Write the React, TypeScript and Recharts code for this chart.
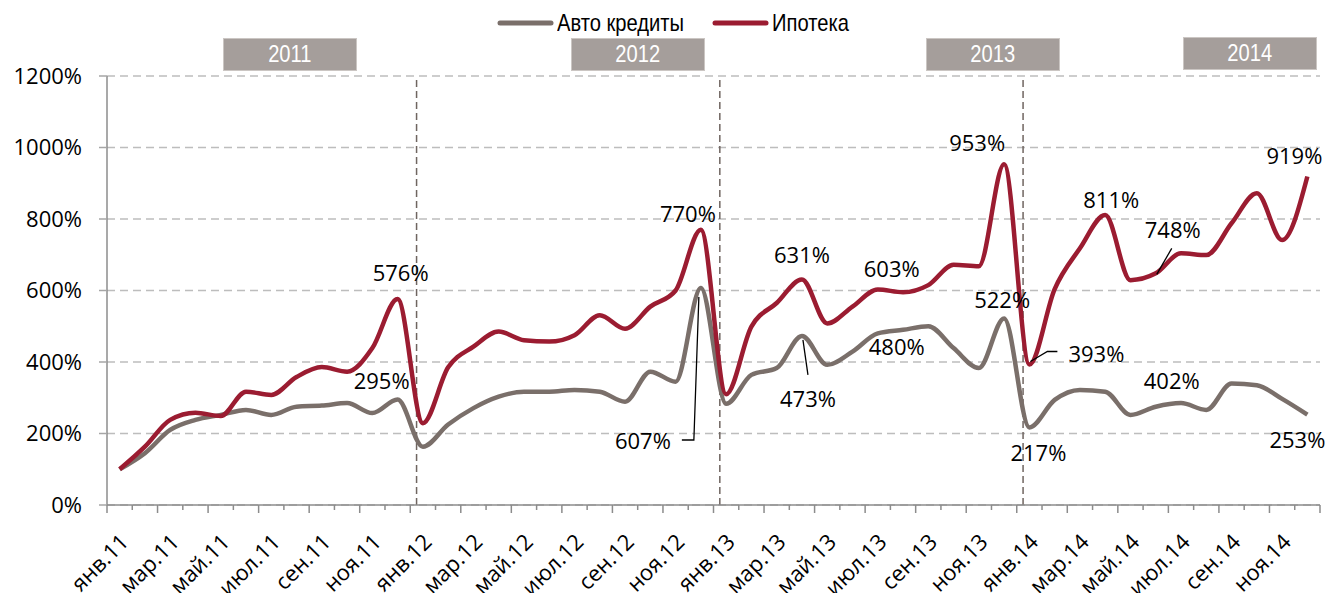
import React from 'react';
import {
  LineChart,
  Line,
  XAxis,
  YAxis,
  CartesianGrid,
  ReferenceLine,
  ReferenceDot,
  Legend,
} from 'recharts';

// ---------- DATA ----------
const months: string[] = [
  'янв.11', 'фев.11', 'мар.11', 'апр.11', 'май.11', 'июн.11', 'июл.11', 'авг.11', 'сен.11', 'окт.11', 'ноя.11', 'дек.11',
  'янв.12', 'фев.12', 'мар.12', 'апр.12', 'май.12', 'июн.12', 'июл.12', 'авг.12', 'сен.12', 'окт.12', 'ноя.12', 'дек.12',
  'янв.13', 'фев.13', 'мар.13', 'апр.13', 'май.13', 'июн.13', 'июл.13', 'авг.13', 'сен.13', 'окт.13', 'ноя.13', 'дек.13',
  'янв.14', 'фев.14', 'мар.14', 'апр.14', 'май.14', 'июн.14', 'июл.14', 'авг.14', 'сен.14', 'окт.14', 'ноя.14', 'дек.14',
];

const autoLoans: number[] = [
  100, 145, 210, 238, 252, 266, 252, 275, 278, 285, 257, 295,
  163, 225, 271, 303, 317, 317, 322, 317, 289, 373, 345, 607,
  283, 364, 383, 473, 392, 429, 480, 490, 500, 439, 383, 522,
  217, 294, 322, 317, 252, 275, 285, 266, 340, 335, 297, 253,
];

const mortgage: number[] = [
  100, 163, 238, 258, 249, 317, 308, 358, 386, 373, 439, 576,
  229, 385, 443, 485, 461, 457, 475, 531, 493, 555, 600, 770,
  310, 499, 565, 631, 508, 555, 603, 595, 615, 672, 668, 953,
  393, 604, 718, 811, 629, 648, 704, 699, 788, 872, 741, 919,
];

const seriesNames = { auto: 'Авто кредиты', mortgage: 'Ипотека' };

const yTicks: number[] = [0, 200, 400, 600, 800, 1000, 1200];

const yearLabels: string[] = ['2011', '2012', '2013', '2014'];

// year separators (in month-index units, between dec and jan)
const yearSeparators: number[] = [11.75, 23.75, 35.75];

// data-label texts per series (index -> text)
const mortgageLabelIdx: number[] = [11, 23, 27, 30, 35, 36, 39, 41, 47];
const mortgageLabelText: string[] = ['576%', '770%', '631%', '603%', '953%', '393%', '811%', '748%', '919%'];
const autoLabelIdx: number[] = [11, 23, 27, 30, 35, 36, 41, 47];
const autoLabelText: string[] = ['295%', '607%', '473%', '480%', '522%', '217%', '402%', '253%'];

// ---------- LAYOUT / STYLE ----------
const W = 1329;
const H = 593;
const RED = '#9B1C31';
const GRAY = '#7A6F6A';
const FONT = "'Open Sans', 'Noto Sans', sans-serif";
const NARROW = "'Liberation Sans', Arial, sans-serif";
const NARROW_SCALE = 0.84;

type Place = { dx: number; dy: number; leader?: number[][] };
const mortgagePlace: Place[] = [
  { dx: 3, dy: -27 },
  { dx: -13, dy: -17 },
  { dx: 0, dy: -25 },
  { dx: 14, dy: -21 },
  { dx: -27, dy: -22 },
  { dx: 67, dy: -12, leader: [[1, -3], [18, -13], [28, -13]] },
  { dx: 6, dy: -16 },
  { dx: 17, dy: -44, leader: [[1, 1], [16, -25]] },
  { dx: -13, dy: -21 },
];
const autoPlace: Place[] = [
  { dx: -16, dy: -20 },
  { dx: -58, dy: 152, leader: [[-19, 152], [-7, 152], [-2, 9]] },
  { dx: 6, dy: 62, leader: [[6, 39], [1, 4]] },
  { dx: 19, dy: 13 },
  { dx: -2, dy: -19 },
  { dx: 9, dy: 25 },
  { dx: 16, dy: -27 },
  { dx: -10, dy: 24 },
];

const yearBoxes = [
  { left: 223, top: 38 },
  { left: 571, top: 38 },
  { left: 926, top: 38 },
  { left: 1183, top: 37 },
];

const legendTextWidths = [128, 80];

const data = months.map((m, i) => ({
  idx: i,
  month: m,
  auto: autoLoans[i],
  mortgage: mortgage[i],
}));

const xTicks: number[] = Array.from({ length: months.length * 2 + 1 }, (_, k) => -0.5 + k * 0.5);

const XTick = (props: any) => {
  const { x, y, payload } = props;
  const v: number = payload.value;
  if (Number.isInteger(v)) {
    if (v % 2 !== 0 || v >= months.length) return <g />;
    const tx = x + 4;
    const ty = y + 32;
    return (
      <text
        x={tx}
        y={ty}
        textAnchor="end"
        dominantBaseline="central"
        transform={`rotate(-45 ${tx} ${ty})`}
        fontSize={22}
        fontFamily={FONT}
        fill="#000"
      >
        {months[v]}
      </text>
    );
  }
  const major = Math.round(v + 0.5) % 2 === 0;
  return <line x1={x} x2={x} y1={y} y2={y + (major ? 8 : 5)} stroke="#8c8c8c" strokeWidth={1.5} />;
};

const makeAnno = (text: string, place: Place) => (props: any) => {
  const { cx, cy } = props;
  if (cx == null || cy == null) return <g />;
  return (
    <g>
      {place.leader && (
        <polyline
          points={place.leader.map(([a, b]) => `${cx + a},${cy + b}`).join(' ')}
          fill="none"
          stroke="#000"
          strokeWidth={1.3}
        />
      )}
      <text
        x={cx + place.dx}
        y={cy + place.dy}
        textAnchor="middle"
        dominantBaseline="central"
        fontSize={22}
        fontFamily={FONT}
        fill="#000"
      >
        {text}
      </text>
    </g>
  );
};

const LegendContent = (props: any) => {
  const payload = props.payload || [];
  return (
    <div style={{ display: 'flex', alignItems: 'center', fontFamily: NARROW, fontSize: 24, lineHeight: '28px' }}>
      {payload.map((p: any, k: number) => (
        <div key={k} style={{ display: 'flex', alignItems: 'center', marginRight: k === 0 ? 27 : 0 }}>
          <svg width={57} height={8} style={{ display: 'block' }}>
            <line x1={3} x2={54} y1={4} y2={4} stroke={p.color} strokeWidth={5} strokeLinecap="round" />
          </svg>
          <span style={{ display: 'inline-block', width: legendTextWidths[k], marginLeft: 3, whiteSpace: 'nowrap', color: '#000' }}>
            <span style={{ display: 'inline-block', transform: `scaleX(${NARROW_SCALE})`, transformOrigin: '0 50%' }}>
              {p.value}
            </span>
          </span>
        </div>
      ))}
    </div>
  );
};

export default function App() {
  return (
    <div style={{ position: 'relative', width: W, height: H, background: '#fff', fontFamily: FONT, overflow: 'hidden' }}>
      <style>{`body{margin:0;background:#fff;}`}</style>
      <LineChart width={W} height={H} data={data} margin={{ top: 76, right: 9, bottom: 8, left: 27 }}>
        <CartesianGrid horizontal vertical={false} stroke="#bdbdbd" strokeDasharray="8 5" strokeWidth={1.5} />
        <XAxis
          dataKey="idx"
          type="number"
          domain={[-0.5, months.length - 0.5]}
          ticks={xTicks}
          interval={0}
          tick={XTick}
          tickLine={false}
          tickSize={0}
          tickMargin={0}
          height={80}
          axisLine={{ stroke: '#8c8c8c', strokeWidth: 1.5 }}
        />
        <YAxis
          type="number"
          domain={[0, 1200]}
          ticks={yTicks}
          interval={0}
          width={80}
          tickFormatter={(v: number) => `${v}%`}
          tick={{ fontSize: 22, fill: '#000', fontFamily: FONT }}
          tickSize={8}
          tickMargin={17}
          tickLine={{ stroke: '#a6a6a6', strokeWidth: 1.5 }}
          axisLine={{ stroke: '#8c8c8c', strokeWidth: 1.5 }}
        />
        {yearSeparators.map((s) => (
          <ReferenceLine key={s} x={s} stroke="#6f6560" strokeWidth={1.5} strokeDasharray="7 4" />
        ))}
        <Legend
          verticalAlign="middle"
          align="center"
          layout="horizontal"
          wrapperStyle={{ top: 9, left: 497, width: 380 }}
          content={LegendContent}
        />
        <Line
          type="monotone"
          dataKey="auto"
          name={seriesNames.auto}
          stroke={GRAY}
          strokeWidth={4.5}
          dot={false}
          activeDot={false}
          isAnimationActive={false}
        />
        <Line
          type="monotone"
          dataKey="mortgage"
          name={seriesNames.mortgage}
          stroke={RED}
          strokeWidth={4.5}
          dot={false}
          activeDot={false}
          isAnimationActive={false}
        />
        {autoLabelIdx.map((i, k) => (
          <ReferenceDot
            key={`a${i}`}
            x={i}
            y={autoLoans[i]}
            r={0}
            ifOverflow="visible"
            shape={makeAnno(autoLabelText[k], autoPlace[k])}
          />
        ))}
        {mortgageLabelIdx.map((i, k) => (
          <ReferenceDot
            key={`m${i}`}
            x={i}
            y={mortgage[i]}
            r={0}
            ifOverflow="visible"
            shape={makeAnno(mortgageLabelText[k], mortgagePlace[k])}
          />
        ))}
      </LineChart>
      {yearLabels.map((yl, k) => (
        <div
          key={yl}
          style={{
            position: 'absolute',
            left: yearBoxes[k].left,
            top: yearBoxes[k].top,
            width: 134,
            height: 33,
            boxSizing: 'border-box',
            background: '#A59E9B',
            border: '1.5px solid #CBC6C3',
            color: '#fff',
            fontFamily: NARROW,
            fontSize: 24,
            lineHeight: '30px',
            textAlign: 'center',
          }}
        >
          <span style={{ display: 'inline-block', transform: `scaleX(${NARROW_SCALE})` }}>{yl}</span>
        </div>
      ))}
    </div>
  );
}
